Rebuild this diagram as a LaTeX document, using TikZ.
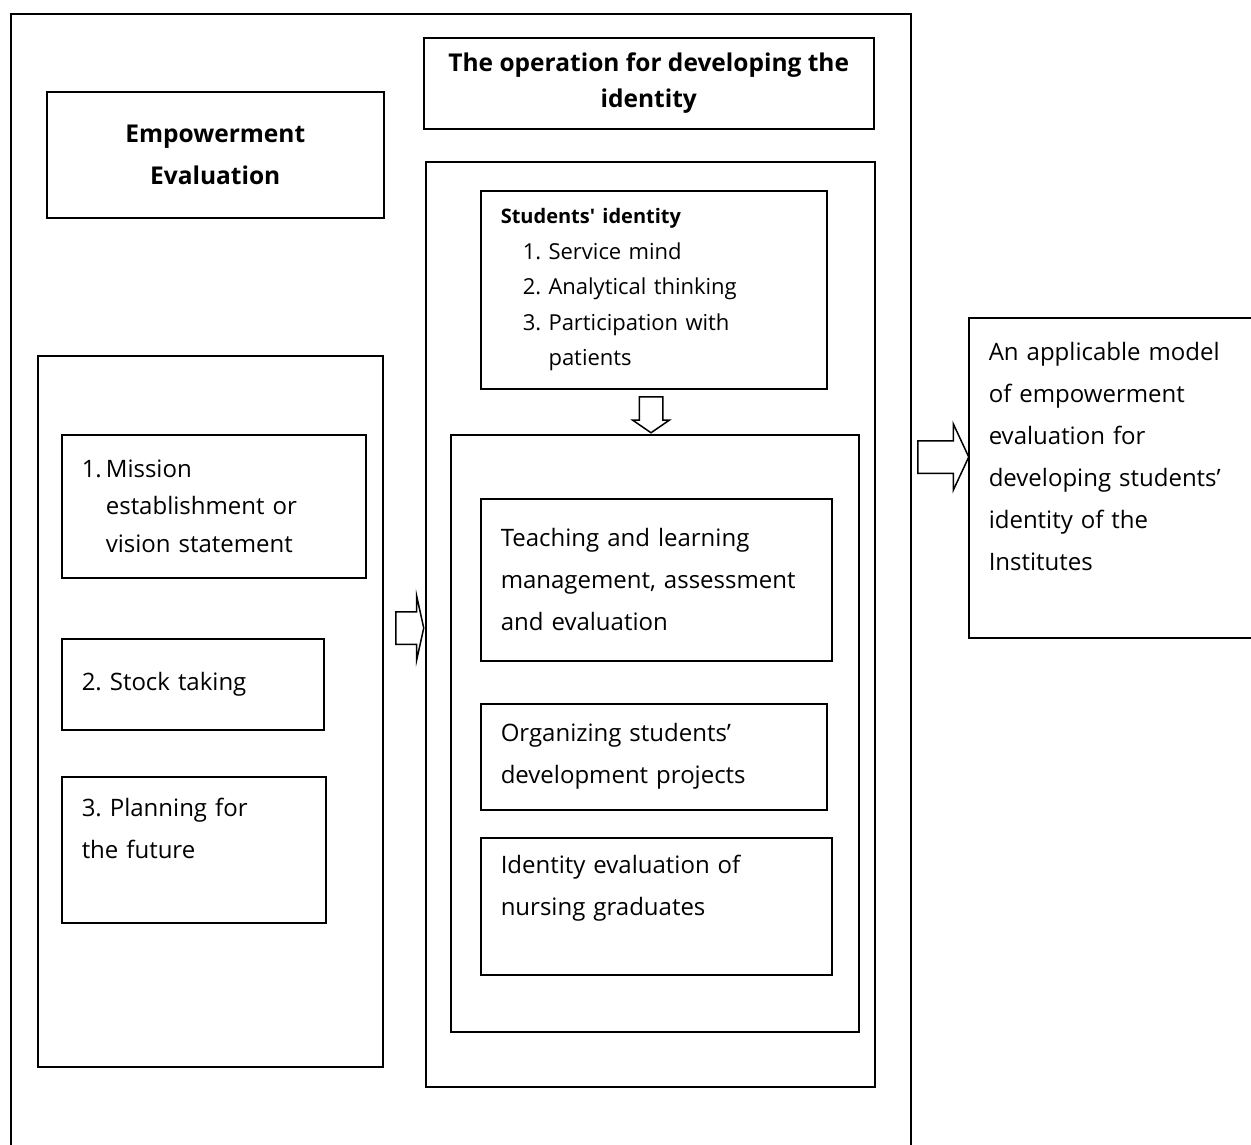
\documentclass[tikz,border=0pt]{standalone}
\usepackage{fontspec}
\setmainfont{Open Sans}
\usetikzlibrary{shapes,arrows}

\begin{document}
\frenchspacing
\begin{tikzpicture}[x=1pt, y=-1pt, line width=1.5pt,
	box/.style={draw, rectangle, anchor=north west, inner sep=0pt},
	txtbox/.style={box, align=left, inner xsep=20pt, inner ysep=0pt, font=\fontsize{24}{42}\selectfont},
	headbox/.style={box, align=center, font=\bfseries\fontsize{24.5}{36}\selectfont},
	hollow/.style={draw, single arrow, inner xsep=0pt, anchor=tail}]
	
		\clip (0,0) rectangle (1251,1144);
		\node[box, minimum width=900pt, minimum height=1200pt] (frame) at (10,13) {};
		
		% left column
		\node[headbox, minimum width=337pt, minimum height=126pt, font=\bfseries\fontsize{24.5}{42}\selectfont] (empower) at (46,91) {Empowerment\\Evaluation};
		\node[box, minimum width=345pt, minimum height=711pt] (steps) at (37,355) {};
		\node[txtbox, text width=264pt, minimum height=143pt, font=\fontsize{24}{37.5}\selectfont] (mission) at (61,434) {1.\,Mission\\\hphantom{1.\,}establishment or\\\hphantom{1.\,}vision statement};
		\node[txtbox, text width=222pt, minimum height=91pt] (stock) at (61,638) {2. Stock taking};
		\node[txtbox, text width=224pt, minimum height=146pt] (planning) at (61,776) {3. Planning for\\the future\\ \mbox{}};
		
		% middle column
		\node[headbox, minimum width=450pt, minimum height=91pt] (operation) at (423,37) {The operation for developing the\\identity};
		\node[box, minimum width=449pt, minimum height=925pt] (middle) at (425,161) {};
		\node[txtbox, text width=306pt, minimum height=198pt, font=\fontsize{22}{35.5}\selectfont] (identity) at (480,190) {{\bfseries\fontsize{20}{35.5}\selectfont Students\textquotesingle{} identity}\\
			\hspace*{22pt}1.~Service mind\\
			\hspace*{22pt}2.~Analytical thinking\\
			\hspace*{22pt}3.~Participation with\\
			\hspace*{22pt}\hphantom{3.~}patients};
		\node[box, minimum width=408pt, minimum height=597pt] (inner) at (450,434) {};
		\node[txtbox, text width=311pt, minimum height=162pt] (teaching) at (480,498) {Teaching and learning\\management, assessment\\and evaluation};
		\node[txtbox, text width=306pt, minimum height=106pt] (projects) at (480,703) {Organizing students’\\development projects};
		\node[txtbox, text width=311pt, minimum height=137pt] (graduates) at (480,837) {Identity evaluation of\\nursing graduates\\ \mbox{}};
		
		% right column
		\node[txtbox, text width=270pt, minimum height=320pt] (model) at (968,317) {An applicable model\\of empowerment\\evaluation for\\developing students’\\identity of the\\Institutes\\ \mbox{}};
		
		% block arrows
		\node[hollow, inner ysep=15.5pt, minimum height=28pt, single arrow head extend=16pt, single arrow tip angle=155] (arrA) at (395,628) {};
		\node[hollow, rotate=-90, inner ysep=11pt, minimum height=36pt, single arrow head extend=6.5pt, single arrow tip angle=111] (arrB) at (651,396) {};
		\node[hollow, inner ysep=15.5pt, minimum height=51pt, single arrow head extend=17pt, single arrow tip angle=130] (arrC) at (917,457) {};
		
	\end{tikzpicture}
\end{document}
